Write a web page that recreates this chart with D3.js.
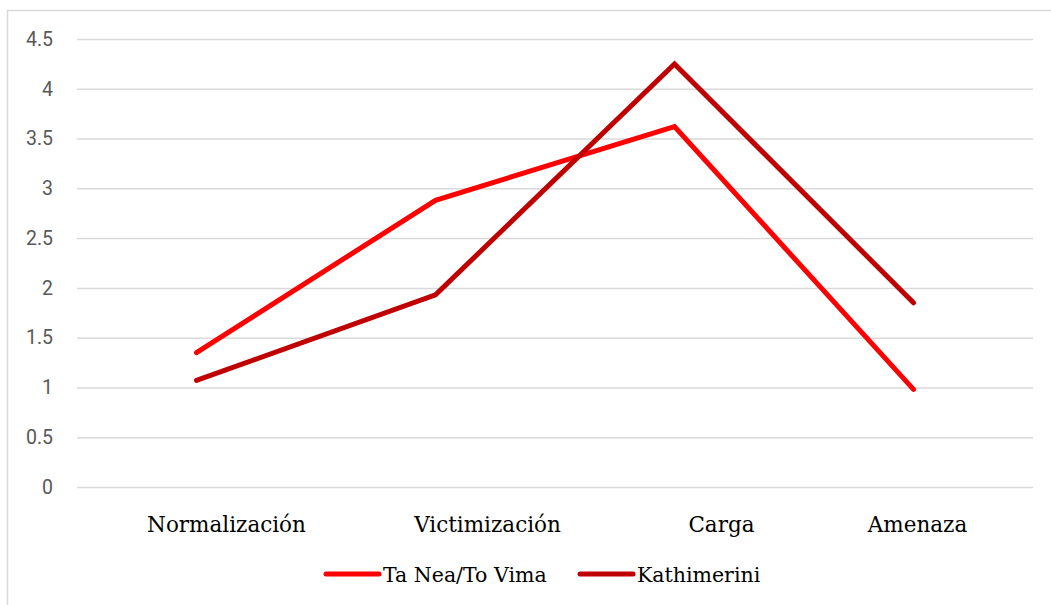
<!DOCTYPE html>
<html>
<head>
<meta charset="utf-8">
<script src="https://cdn.jsdelivr.net/npm/d3@7"></script>
<style>
  body { margin: 0; background: #fff; }
  svg { display: block; }
</style>
</head>
<body>
<svg id="chart"></svg>
<script>
// data
const categories = ['Normalización', 'Victimización', 'Carga', 'Amenaza'];
const taNea = [1.35, 2.88, 3.62, 0.98];
const kathimerini = [1.07, 1.93, 4.25, 1.85];
const seriesNames = ['Ta Nea/To Vima', 'Kathimerini'];
const yTicks = [0, 0.5, 1, 1.5, 2, 2.5, 3, 3.5, 4, 4.5];

// the category labels sit a bit right of the points in the original
const labelShift = [30, 52, 47, 4];

const serif = 'DejaVu Serif';

const width = 1051, height = 605;
const margin = { top: 39, right: 18, bottom: 118, left: 77 };

const svg = d3.select('#chart')
  .attr('width', width)
  .attr('height', height);

// chart border
svg.append('rect')
  .attr('x', 7.5).attr('y', 10.5)
  .attr('width', 1060).attr('height', 620)
  .attr('fill', 'none')
  .attr('stroke', '#d9d9d9')
  .attr('stroke-width', 1.5);

const x = d3.scaleBand()
  .domain(categories)
  .range([margin.left, width - margin.right]);

const y = d3.scaleLinear()
  .domain([0, 4.5])
  .range([height - margin.bottom, margin.top]);

// gridlines + y labels
const yAxis = svg.append('g')
  .attr('transform', 'translate(' + margin.left + ',0)')
  .call(d3.axisLeft(y)
    .tickValues(yTicks)
    .tickSize(-(width - margin.left - margin.right))
    .tickPadding(24)
    .tickFormat(d3.format('')));
yAxis.select('.domain').remove();
yAxis.attr('font-family', 'Roboto').attr('font-size', 19.5);
yAxis.selectAll('.tick line')
  .attr('stroke', '#d9d9d9')
  .attr('stroke-width', 1.5);
yAxis.selectAll('.tick text')
  .attr('fill', '#595959');

// category labels
svg.append('g')
  .attr('font-family', serif)
  .attr('font-size', 21.5)
  .selectAll('text')
  .data(categories)
  .enter()
  .append('text')
  .attr('x', (d, i) => x(d) + x.bandwidth() / 2 + labelShift[i])
  .attr('y', 532)
  .attr('text-anchor', 'middle')
  .attr('fill', '#000')
  .text(d => d);

const colors = ['#ff0000', '#c00000'];
const seriesData = [taNea, kathimerini];

const line = d3.line()
  .x((d, i) => x(categories[i]) + x.bandwidth() / 2)
  .y(d => y(d));

svg.append('g')
  .selectAll('path')
  .data(seriesData)
  .enter()
  .append('path')
  .attr('d', line)
  .attr('fill', 'none')
  .attr('stroke', (d, i) => colors[i])
  .attr('stroke-width', 5)
  .attr('stroke-linecap', 'round')
  .attr('stroke-linejoin', 'miter');

// legend
const legendX = [324, 578];
const legend = svg.append('g')
  .attr('font-family', serif)
  .attr('font-size', 20.5)
  .selectAll('g')
  .data(seriesNames)
  .enter()
  .append('g')
  .attr('transform', (d, i) => 'translate(' + legendX[i] + ',574)');
legend.append('line')
  .attr('x1', 2).attr('x2', 55)
  .attr('stroke', (d, i) => colors[i])
  .attr('stroke-width', 5)
  .attr('stroke-linecap', 'round');
legend.append('text')
  .attr('x', 59)
  .attr('y', 8)
  .attr('fill', '#000')
  .text(d => d);
</script>
</body>
</html>
